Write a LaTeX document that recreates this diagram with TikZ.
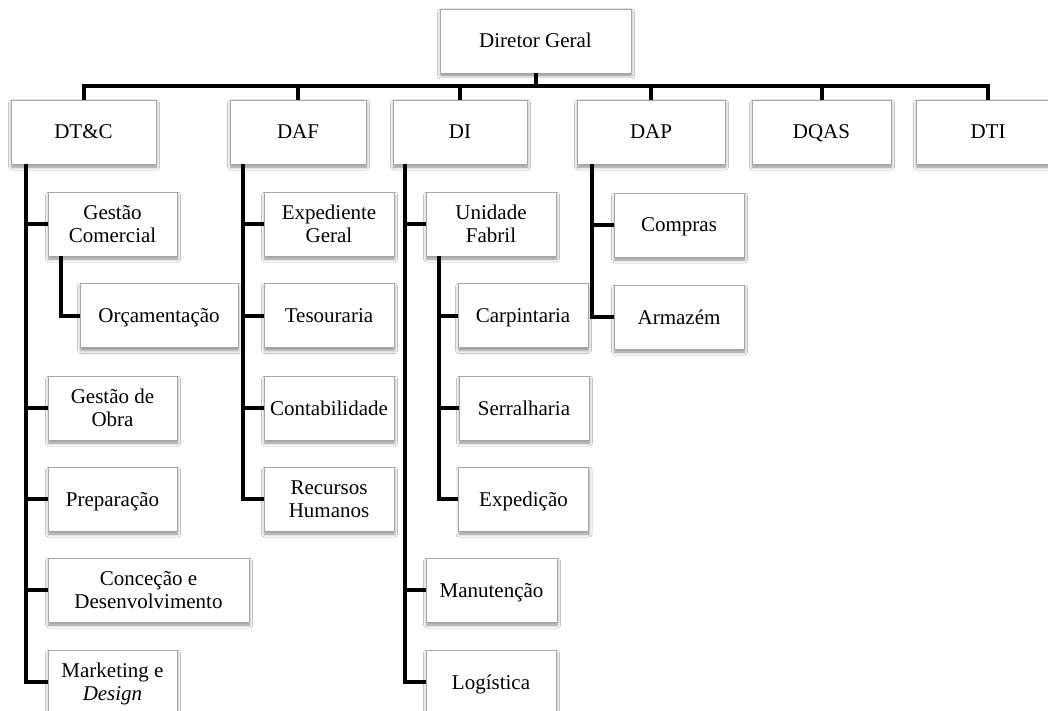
\documentclass[tikz,border=0pt]{standalone}
\usepackage{fontspec}
\setmainfont{Liberation Serif}
\usetikzlibrary{shadows.blur}
\newcommand{\sst}{\rule[-5pt]{0pt}{24pt}}
\newcommand{\boxfont}{\fontsize{21}{23}\selectfont\setlength{\lineskiplimit}{-30pt}\setlength{\lineskip}{0pt}}
\tikzset{
  orgbox/.style={draw=gray!70, line width=0.8pt, fill=white, minimum height=64pt,
    inner sep=0pt, align=center, text=black, font=\boxfont,
    blur shadow={shadow xshift=0.6pt, shadow yshift=-3pt, shadow blur radius=3pt, shadow opacity=45}},
  link/.style={line width=4pt, black},
}
\begin{document}
\begin{tikzpicture}[x=1pt, y=-1pt]
\clip (0,0) rectangle (1048,711);
\fill[white] (0,0) rectangle (1048,711);
% top
\node[orgbox, minimum width=191] (dg) at (535.5,41) {\sst Diretor Geral};
% level 1
\node[orgbox, minimum width=145] (dtc) at (83.5,132) {\sst DT\&C};
\node[orgbox, minimum width=136] (daf) at (298,132) {\sst DAF};
\node[orgbox, minimum width=134] (di) at (460,132) {\sst DI};
\node[orgbox, minimum width=148] (dap) at (651,132) {\sst DAP};
\node[orgbox, minimum width=139] (dqas) at (821.5,132) {\sst DQAS};
\node[orgbox, minimum width=144] (dti) at (988,132) {\sst DTI};
% DT&C children
\node[orgbox, minimum width=129] (gc) at (112.5,224) {\sst Gestão\\\sst Comercial};
\node[orgbox, minimum width=158] (orc) at (159,315.5) {\sst Orçamentação};
\node[orgbox, minimum width=129] (gob) at (112.5,408) {\sst Gestão de\\\sst Obra};
\node[orgbox, minimum width=129] (prep) at (112.5,499) {\sst Preparação};
\node[orgbox, minimum width=201] (conc) at (148.5,590) {\sst Conceção e\\\sst Desenvolvimento};
\node[orgbox, minimum width=129] (mkt) at (112.5,682) {\sst Marketing e\\\sst\textit{Design}};
% DAF children
\node[orgbox, minimum width=130] (exg) at (329,224) {\sst Expediente\\\sst Geral};
\node[orgbox, minimum width=130] (tes) at (329,315.5) {\sst Tesouraria};
\node[orgbox, minimum width=130] (cont) at (329,408) {\sst Contabilidade};
\node[orgbox, minimum width=130] (rh) at (329,499) {\sst Recursos\\\sst Humanos};
% DI children
\node[orgbox, minimum width=130] (uf) at (491,224) {\sst Unidade\\\sst Fabril};
\node[orgbox, minimum width=130] (carp) at (523,315.5) {\sst Carpintaria};
\node[orgbox, minimum width=130] (serr) at (524,408) {\sst Serralharia};
\node[orgbox, minimum width=130] (expd) at (523.5,499) {\sst Expedição};
\node[orgbox, minimum width=131] (man) at (491.5,590) {\sst Manutenção};
\node[orgbox, minimum width=130] (log) at (491,682) {\sst Logística};
% DAP children
\node[orgbox, minimum width=130] (comp) at (679,225) {\sst Compras};
\node[orgbox, minimum width=130] (arm) at (679,317) {\sst Armazém};
% bus
\coordinate (bus) at (0,86);
\draw[link] (dg.south) -- (dg.south |- bus);
\foreach \n in {dtc,daf,di,dap,dqas,dti}{
  \draw[link] (\n.north) |- (dg.south |- bus);
}
% DT&C spine
\foreach \n in {gc,gob,prep,conc,mkt}{
  \draw[link] ([xshift=15pt]dtc.south west) |- (\n.west);
}
\draw[link] ([xshift=13pt]gc.south west) |- (orc.west);
% DAF spine
\foreach \n in {exg,tes,cont,rh}{
  \draw[link] ([xshift=13pt]daf.south west) |- (\n.west);
}
% DI spine
\foreach \n in {uf,man,log}{
  \draw[link] ([xshift=12pt]di.south west) |- (\n.west);
}
\foreach \n in {carp,serr,expd}{
  \draw[link] ([xshift=13pt]uf.south west) |- (\n.west);
}
% DAP spine
\foreach \n in {comp,arm}{
  \draw[link] ([xshift=15pt]dap.south west) |- (\n.west);
}
\end{tikzpicture}
\end{document}
